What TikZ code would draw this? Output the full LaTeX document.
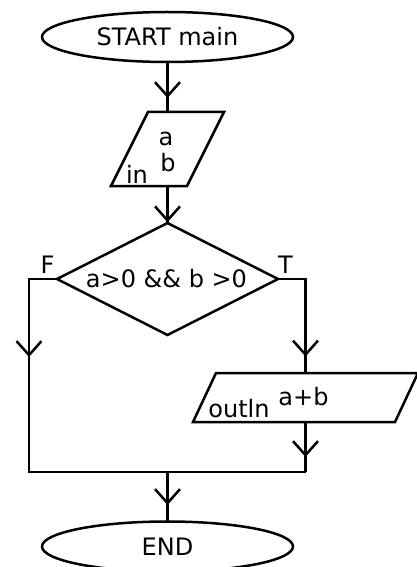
\documentclass[tikz,border=0pt]{standalone}
\usepackage{fontspec}
\setmainfont{DejaVu Sans}
\usetikzlibrary{shapes.geometric,arrows.meta,decorations.markings,calc}

\tikzset{
  flow/.style={line width=2.5pt, line join=miter},
  term/.style={flow, draw, ellipse, minimum width=251pt, minimum height=50pt, inner sep=0pt, outer sep=0pt},
  iobox/.style={rectangle, inner sep=0pt, outer sep=0pt},
  decbox/.style={flow, draw, diamond, minimum width=221pt, minimum height=112pt, inner sep=0pt, outer sep=0pt},
  lbl/.style={inner sep=0pt, anchor=base},
  vmark/.style={postaction={decorate, decoration={markings,
      mark=at position #1 with {\arrow{Straight Barb[length=14pt, width=25pt, line width=2.5pt]}}}}}
}

\begin{document}
\begin{tikzpicture}[x=1pt, y=-1pt, font=\fontsize{24}{26}\selectfont]
\useasboundingbox (0,0) rectangle (417,567);

% terminals
\node[term] (start) at (167.5,37) {START main};
\node[term] (stop) at (167.5,546.5) {END};

% input parallelogram
\node[iobox, minimum width=113pt, minimum height=74pt] (inbox) at (167.5,149) {};
\draw[flow] ($(inbox.north west)+(37,0)$) -- (inbox.north east)
  -- ($(inbox.south east)-(37,0)$) -- (inbox.south west) -- cycle;
\node[lbl] (inA) at (166,145) {a};
\node[lbl] (inB) at (168,171) {b};
\node[lbl] (inTag) at (137,183) {in};

% decision
\node[decbox] (dec) at (167.5,279) {};
\node[inner sep=0pt] (decTxt) at (166.5,278.5) {a>0 \&\& b >0};
\node[lbl] (fTag) at (47.5,273) {F};
\node[lbl] (tTag) at (285.5,273) {T};

% output parallelogram
\node[iobox, minimum width=225pt, minimum height=49pt] (outbox) at (305.5,397.5) {};
\draw[flow] ($(outbox.north west)+(23,0)$) -- (outbox.north east)
  -- ($(outbox.south east)-(23,0)$) -- (outbox.south west) -- cycle;
\node[lbl] (outTag) at (239,417) {outln};
\node[lbl] (outVal) at (303.5,405) {a+b};

% routing points
\coordinate (fl) at (29,279);
\coordinate (tr) at (305.5,279);
\coordinate (ml) at (29,472);
\coordinate (mr) at (305.5,472);
\coordinate (mc) at (167.5,472);

% connectors
\draw[flow, vmark=36pt] (start.south) -- (inbox.north);
\draw[flow, vmark=0.98] (inbox.south) -- (dec.north);
\draw[flow, vmark=106pt] (dec.west) -- (fl) -- (ml) -- (mr);
\draw[flow, vmark=105pt] (dec.east) -- (tr) -- (outbox.north);
\draw[flow, vmark=35pt] (outbox.south) -- (mr);
\draw[flow, vmark=33pt] (mc) -- (stop.north);
\end{tikzpicture}
\end{document}
